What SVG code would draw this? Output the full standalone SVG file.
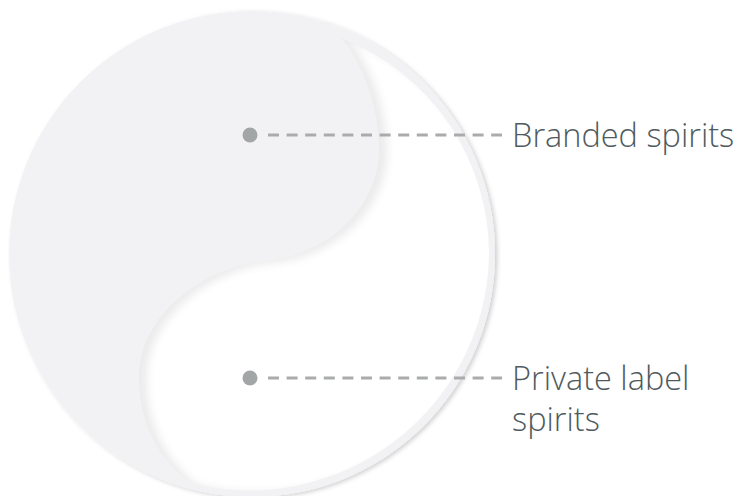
<svg xmlns="http://www.w3.org/2000/svg" width="742" height="496" viewBox="0 0 742 496">
  <defs>
    <style>
      .disc { fill: #f2f2f4; }
      .yang { fill: #ffffff; }
      .dot { fill: #a3a6a7; }
      .lead { stroke: #a9abac; stroke-width: 3; stroke-dasharray: 11 7.6; fill: none; }
      .label { font-family: "Open Sans", "Liberation Sans", sans-serif; font-weight: 300; font-size: 32.5px; fill: #4f5a5e; }
    </style>
    <filter id="drop" x="-10%" y="-10%" width="120%" height="120%">
      <feDropShadow dx="2.5" dy="1.5" stdDeviation="2.2" flood-color="#000" flood-opacity="0.18"/>
    </filter>
    <filter id="inset" x="-8%" y="-8%" width="116%" height="116%">
      <feComponentTransfer in="SourceAlpha" result="inv">
        <feFuncA type="table" tableValues="1 0"/>
      </feComponentTransfer>
      <feOffset in="inv" dx="8" dy="2" result="off"/>
      <feGaussianBlur in="off" stdDeviation="4" result="blur"/>
      <feFlood flood-color="#000" flood-opacity="0.17"/>
      <feComposite in2="blur" operator="in" result="sh"/>
      <feComposite in="sh" in2="SourceAlpha" operator="in" result="shin"/>
      <feMerge>
        <feMergeNode in="SourceGraphic"/>
        <feMergeNode in="shin"/>
      </feMerge>
    </filter>
  </defs>

  <circle class="disc" cx="252" cy="254" r="243" filter="url(#drop)"/>
  <path class="yang" filter="url(#inset)" d="M341,38 A232,232 0 0 1 489,257 A240,240 0 0 1 190,483 C160,460 139,425 139,378 C139,310 210,266 265,261 C330,255 379,205 379,150 C379,105 362,62 341,38 Z"/>

  <g id="connectors">
    <line class="lead" x1="268" y1="135" x2="502" y2="135"/>
    <line class="lead" x1="268" y1="378" x2="502" y2="378"/>
  </g>

  <g id="branded">
    <circle class="dot" cx="250" cy="135" r="7.5"/>
    <text class="label" x="512" y="147">Branded spirits</text>
  </g>

  <g id="private">
    <circle class="dot" cx="250" cy="378" r="7.5"/>
    <text class="label" x="512" y="390">Private label</text>
    <text class="label" x="512" y="431">spirits</text>
  </g>
</svg>
